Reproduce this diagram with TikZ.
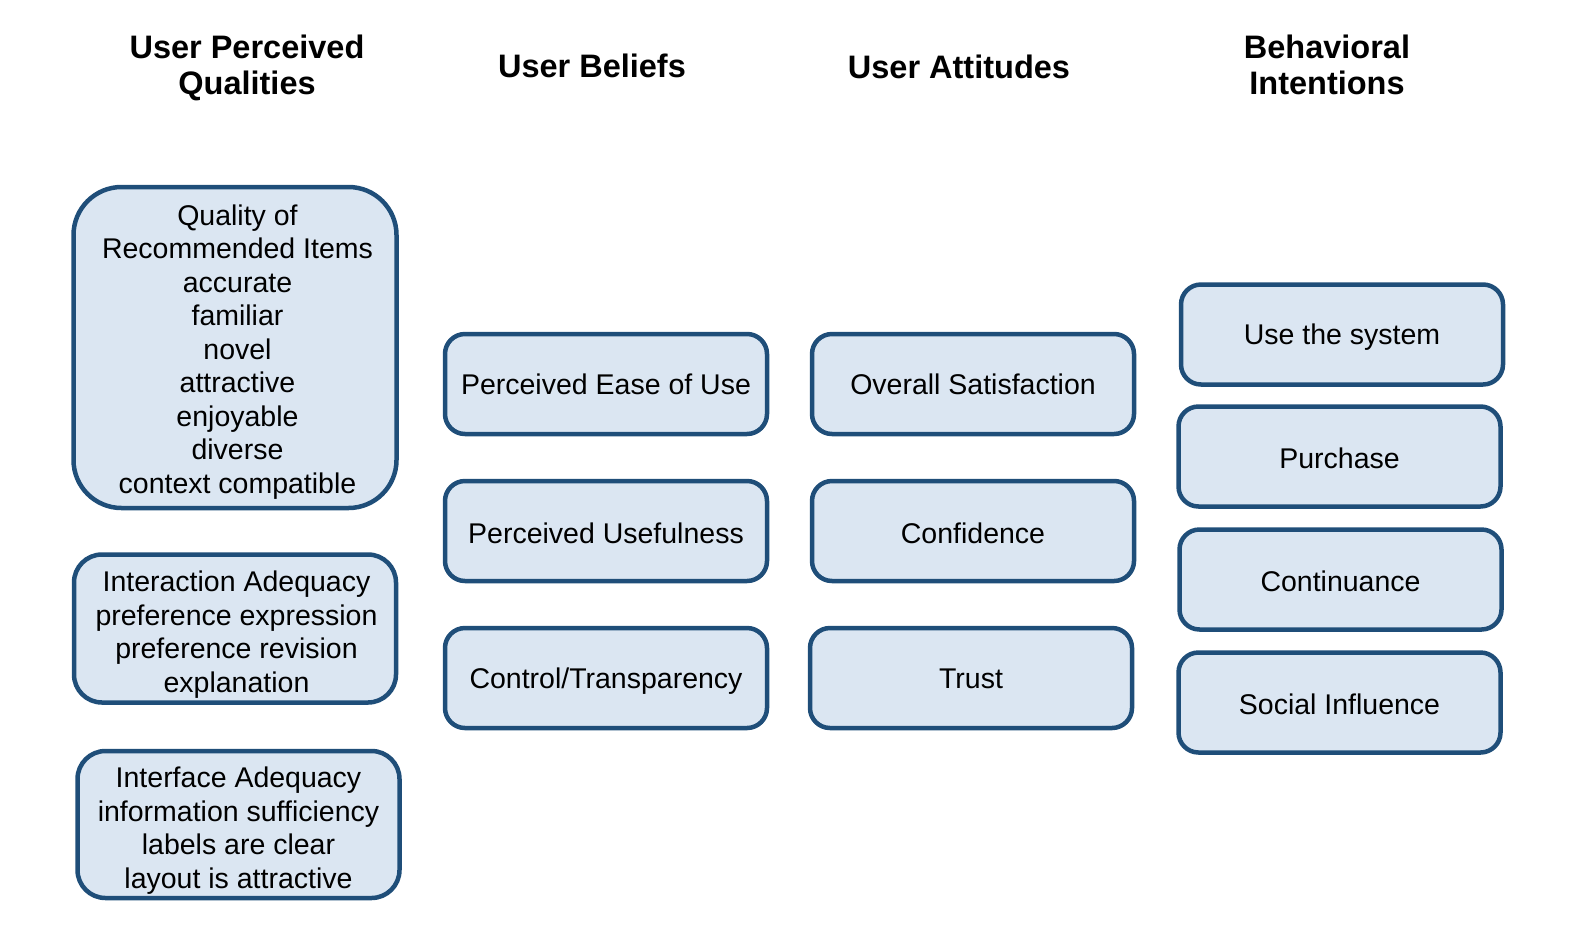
\documentclass[tikz,border=0pt]{standalone}
\usepackage{fontspec}
\setmainfont{Liberation Sans}
\definecolor{bfill}{RGB}{219,230,242}
\definecolor{bdr}{RGB}{31,78,121}
\begin{document}
\begin{tikzpicture}[x=1pt,y=-1pt,
  boxbase/.style={draw=bdr, fill=bfill, line width=4.5pt, align=center, inner sep=0pt,
    font=\fontsize{28.5}{33.5}\selectfont},
  smallbox/.style={boxbase, rounded corners=20pt, minimum width=322pt, minimum height=100pt,
    text height=26pt, text depth=5.6pt},
  lowbox/.style={smallbox, text height=28pt, text depth=3.6pt},
  hdr/.style={align=center, font=\fontsize{32.5}{36.5}\selectfont\bfseries}]
\useasboundingbox (0,0) rectangle (1592,930);
% headers
\node[hdr] (h1) at (247,68) {User Perceived\\Qualities};
\node[hdr] (h2) at (592,66) {User Beliefs};
\node[hdr] (h3) at (959,67) {User Attitudes};
\node[hdr] (h4) at (1327,65) {Behavioral\\Intentions};
% column 1
\node[boxbase, rounded corners=48pt, minimum width=323pt, minimum height=321pt, text depth=0pt] (q) at (235,347.5)
  {\hspace*{5pt}\rule{0pt}{23pt}Quality of\\\hspace*{5pt}Recommended Items\\\hspace*{5pt}accurate\\\hspace*{5pt}familiar\\\hspace*{5pt}novel\\\hspace*{5pt}attractive\\\hspace*{5pt}enjoyable\\\hspace*{5pt}diverse\\\hspace*{5pt}context compatible};
\node[boxbase, rounded corners=28pt, minimum width=322pt, minimum height=148pt, text depth=0pt] (ia) at (235,628.5)
  {\hspace*{3pt}\rule{0pt}{27pt}Interaction Adequacy\\\hspace*{3pt}preference expression\\\hspace*{3pt}preference revision\\\hspace*{3pt}explanation};
\node[boxbase, rounded corners=28pt, minimum width=322pt, minimum height=147pt, text depth=0pt] (if) at (238.5,824.5)
  {\rule{0pt}{27pt}Interface Adequacy\\information sufficiency\\labels are clear\\layout is attractive};
% column 2
\node[smallbox] (peou) at (606,384) {Perceived Ease of Use};
\node[lowbox] (pu) at (606,531) {Perceived Usefulness};
\node[smallbox] (ct) at (606,678) {Control/Transparency};
% column 3
\node[smallbox] (os) at (973,384) {Overall Satisfaction};
\node[lowbox] (cf) at (973,531) {Confidence};
\node[smallbox] (tr) at (971,678) {Trust};
% column 4
\node[smallbox] (use) at (1342,334.5) {Use the system};
\node[lowbox] (pur) at (1339.5,456.5) {Purchase};
\node[lowbox] (con) at (1340.5,579.5) {Continuance};
\node[lowbox] (soc) at (1339.5,702.5) {Social Influence};
\end{tikzpicture}
\end{document}
